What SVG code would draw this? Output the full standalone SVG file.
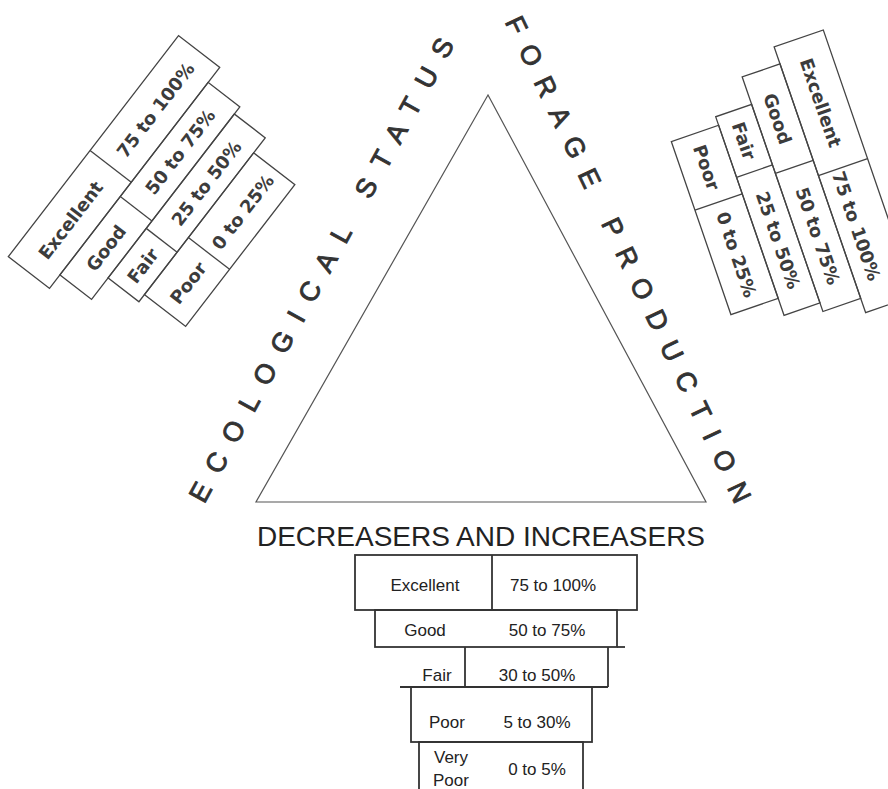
<svg xmlns="http://www.w3.org/2000/svg" width="888" height="789" viewBox="0 0 888 789">
<style>
.tri{fill:none;stroke:#555;stroke-width:1.2}
.cell{fill:none;stroke:#444;stroke-width:1.3}
.ln{stroke:#444;stroke-width:1.3;fill:none}
.big{font-family:"Liberation Sans",Arial,sans-serif;font-size:27px;fill:#333;stroke:#333;stroke-width:0.9}
.tt{font-family:"DejaVu Sans",sans-serif;font-weight:bold;font-size:18px;fill:#3c3c3c;text-anchor:middle}
.head{font-family:"Liberation Sans",Arial,sans-serif;font-size:28px;fill:#222;text-anchor:middle}
.bt{font-family:"Liberation Sans",Arial,sans-serif;font-size:17px;fill:#222;text-anchor:middle}
.bc{fill:none;stroke:#333;stroke-width:1.8}
</style>
<rect x="0" y="0" width="888" height="789" fill="#fff"/>

<g id="triangle">
<polygon class="tri" points="488,95 256,502 706,502"/>
</g>

<g id="label-ecological-status">
<text class="big" transform="translate(204.2,504.5) rotate(-61.4)" letter-spacing="14.96">ECOLOGICAL STATUS</text>
</g>

<g id="label-forage-production">
<text class="big" transform="translate(504.6,21.7) rotate(64.5)" letter-spacing="14.53">FORAGE PRODUCTION</text>
</g>

<g id="label-decreasers">
<text class="head" x="481" y="546">DECREASERS AND INCREASERS</text>
</g>

<g id="table-left" transform="translate(8.3,256.7) rotate(-52.4)">
<g id="tl-excellent">
<rect class="cell" x="0" y="0" width="279" height="52"/>
<line class="ln" x1="134" y1="0" x2="134" y2="52"/>
<text class="tt" x="67" y="33.6">Excellent</text>
<text class="tt" x="206" y="33.6">75 to 100%</text>
</g>
<g id="tl-good">
<rect class="cell" x="17" y="52" width="243" height="40"/>
<line class="ln" x1="116" y1="52" x2="116" y2="92"/>
<text class="tt" x="66.5" y="78.6">Good</text>
<text class="tt" x="188" y="78.6">50 to 75%</text>
</g>
<g id="tl-fair">
<rect class="cell" x="44" y="92" width="207" height="39"/>
<line class="ln" x1="106.6" y1="92" x2="106.6" y2="131"/>
<text class="tt" x="75" y="118.6">Fair</text>
<text class="tt" x="179" y="118.6">25 to 50%</text>
</g>
<g id="tl-poor">
<rect class="cell" x="53" y="131" width="179" height="52"/>
<line class="ln" x1="125" y1="131" x2="125" y2="183"/>
<text class="tt" x="89" y="165">Poor</text>
<text class="tt" x="178.5" y="165">0 to 25%</text>
</g>
</g>

<g id="table-right" transform="translate(823.3,30) rotate(71)">
<g id="tr-excellent">
<rect class="cell" x="0" y="0" width="281" height="52"/>
<line class="ln" x1="136" y1="0" x2="136" y2="52"/>
<text class="tt" x="68" y="32.6">Excellent</text>
<text class="tt" x="196" y="39" font-size="16.5">75 to 100%</text>
</g>
<g id="tr-good">
<rect class="cell" x="18" y="52" width="248" height="40"/>
<line class="ln" x1="120" y1="52" x2="120" y2="92"/>
<text class="tt" x="69" y="78.6">Good</text>
<text class="tt" x="193" y="78.6">50 to 75%</text>
</g>
<g id="tr-fair">
<rect class="cell" x="47" y="92" width="210" height="38"/>
<line class="ln" x1="111" y1="92" x2="111" y2="130"/>
<text class="tt" x="79" y="117.6">Fair</text>
<text class="tt" x="184" y="117.6">25 to 50%</text>
</g>
<g id="tr-poor">
<rect class="cell" x="56" y="130" width="183" height="50"/>
<line class="ln" x1="128.5" y1="130" x2="128.5" y2="180"/>
<text class="tt" x="92" y="161.6">Poor</text>
<text class="tt" x="184" y="161.6">0 to 25%</text>
</g>
</g>

<g id="table-bottom">
<g id="b-excellent">
<rect class="bc" x="355" y="555" width="282" height="55"/>
<line class="bc" x1="492" y1="555" x2="492" y2="610"/>
<text class="bt" x="425" y="591">Excellent</text>
<text class="bt" x="553" y="591">75 to 100%</text>
</g>
<g id="b-good">
<rect class="bc" x="375" y="610" width="242" height="37"/>
<line class="bc" x1="617" y1="647" x2="625" y2="647"/>
<text class="bt" x="425" y="636">Good</text>
<text class="bt" x="547" y="636">50 to 75%</text>
</g>
<g id="b-fair">
<path class="bc" d="M465,647 V687 M608,647 V687 M400,687 H608"/>
<text class="bt" x="437" y="681">Fair</text>
<text class="bt" x="537" y="681">30 to 50%</text>
</g>
<g id="b-poor">
<rect class="bc" x="411" y="687" width="181" height="55"/>
<text class="bt" x="447" y="728">Poor</text>
<text class="bt" x="537" y="728">5 to 30%</text>
</g>
<g id="b-verypoor">
<rect class="bc" x="419" y="742" width="164" height="60"/>
<text class="bt" x="451"><tspan x="451" y="763">Very</tspan><tspan x="451" y="786">Poor</tspan></text>
<text class="bt" x="537" y="775">0 to 5%</text>
</g>
</g>
</svg>
